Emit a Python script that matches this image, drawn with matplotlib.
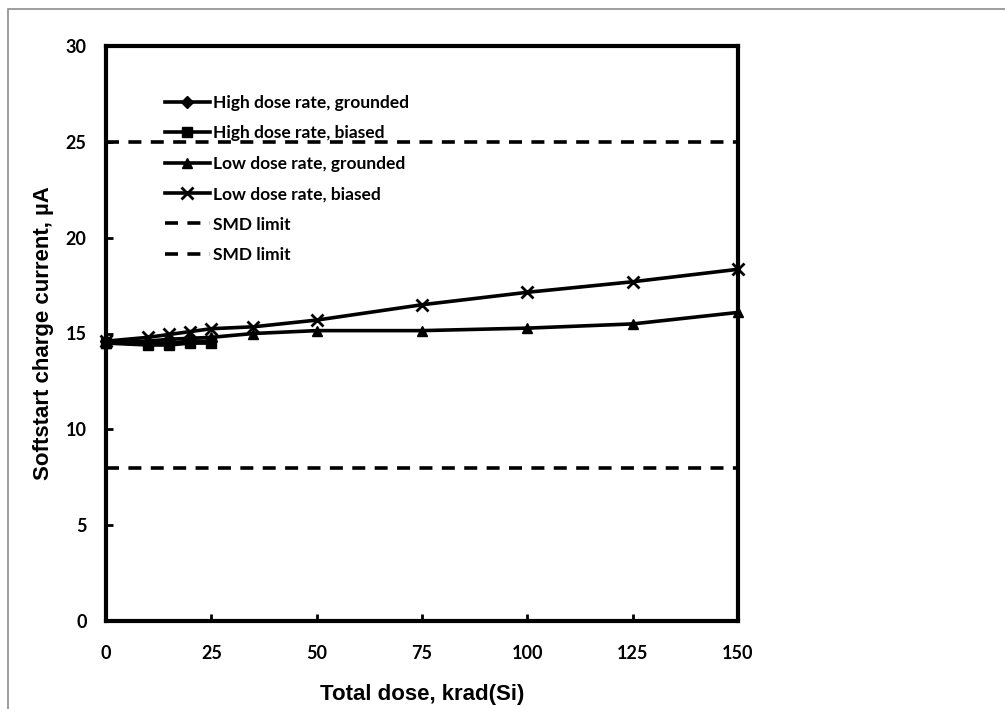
import matplotlib
matplotlib.use("Agg")
import matplotlib.pyplot as plt
from matplotlib.patches import Rectangle

# Data
x_high = [0, 10, 15, 20, 25]
high_grounded = [14.6, 14.5, 14.5, 14.6, 14.6]
high_biased = [14.5, 14.4, 14.4, 14.5, 14.5]
x_low = [0, 10, 15, 20, 25, 35, 50, 75, 100, 125, 150]
low_grounded = [14.5, 14.6, 14.7, 14.75, 14.8, 15.0, 15.15, 15.15, 15.28, 15.5, 16.1]
low_biased = [14.6, 14.8, 14.95, 15.1, 15.25, 15.35, 15.7, 16.5, 17.15, 17.7, 18.35]
smd_upper = 25
smd_lower = 8
x_ticks = [0, 25, 50, 75, 100, 125, 150]
y_ticks = [0, 5, 10, 15, 20, 25, 30]

fig = plt.figure(figsize=(10.05, 7.09), dpi=100)
fig.patches.append(Rectangle((8 / 1005, -0.1), 1.2, 1 - 9 / 709 + 0.1,
                             transform=fig.transFigure, fill=False,
                             edgecolor="#8c8c8c", linewidth=1.2))
ax = fig.add_axes([106 / 1005, 1 - 621 / 709, 632 / 1005, 575 / 709])

lw = 2.6
ax.plot(x_high, high_grounded, color="black", lw=lw, marker="D", ms=6,
        label="High dose rate, grounded", clip_on=False, zorder=3)
ax.plot(x_high, high_biased, color="black", lw=lw, marker="s", ms=7.5,
        label="High dose rate, biased", clip_on=False, zorder=3)
ax.plot(x_low, low_grounded, color="black", lw=lw, marker="^", ms=7.5,
        label="Low dose rate, grounded", clip_on=False, zorder=3)
ax.plot(x_low, low_biased, color="black", lw=lw, marker="x", ms=9, mew=2,
        label="Low dose rate, biased", clip_on=False, zorder=3)
ax.axhline(smd_upper, color="black", lw=lw, ls=(0, (3.6, 2.6)), label="SMD limit")
ax.axhline(smd_lower, color="black", lw=lw, ls=(0, (3.6, 2.6)), label="SMD limit")

ax.set_xlim(0, 150)
ax.set_ylim(0, 30)
ax.set_xticks(x_ticks)
ax.set_yticks(y_ticks)
for s in ax.spines.values():
    s.set_linewidth(3)
ax.tick_params(direction="in", length=5, width=2)
ax.tick_params(axis="x", pad=17)
ax.tick_params(axis="y", pad=14)
for lab in ax.get_xticklabels() + ax.get_yticklabels():
    lab.set_fontfamily("Lato")
    lab.set_fontweight("bold")
    lab.set_fontsize(13)

ax.set_xlabel("Total dose, krad(Si)", fontfamily="Liberation Sans",
              fontweight="bold", fontsize=16, labelpad=16)
ax.set_ylabel("Softstart charge current, µA", fontfamily="Liberation Sans",
              fontweight="bold", fontsize=16, labelpad=8)

leg = ax.legend(loc="upper left", bbox_to_anchor=(0.093, 0.915), frameon=False,
                prop={"family": "Lato", "weight": "bold", "size": 12.5},
                handlelength=2.6, handletextpad=0.15, labelspacing=0.83,
                borderpad=0, borderaxespad=0)

fig.savefig("out.png", dpi=100)
